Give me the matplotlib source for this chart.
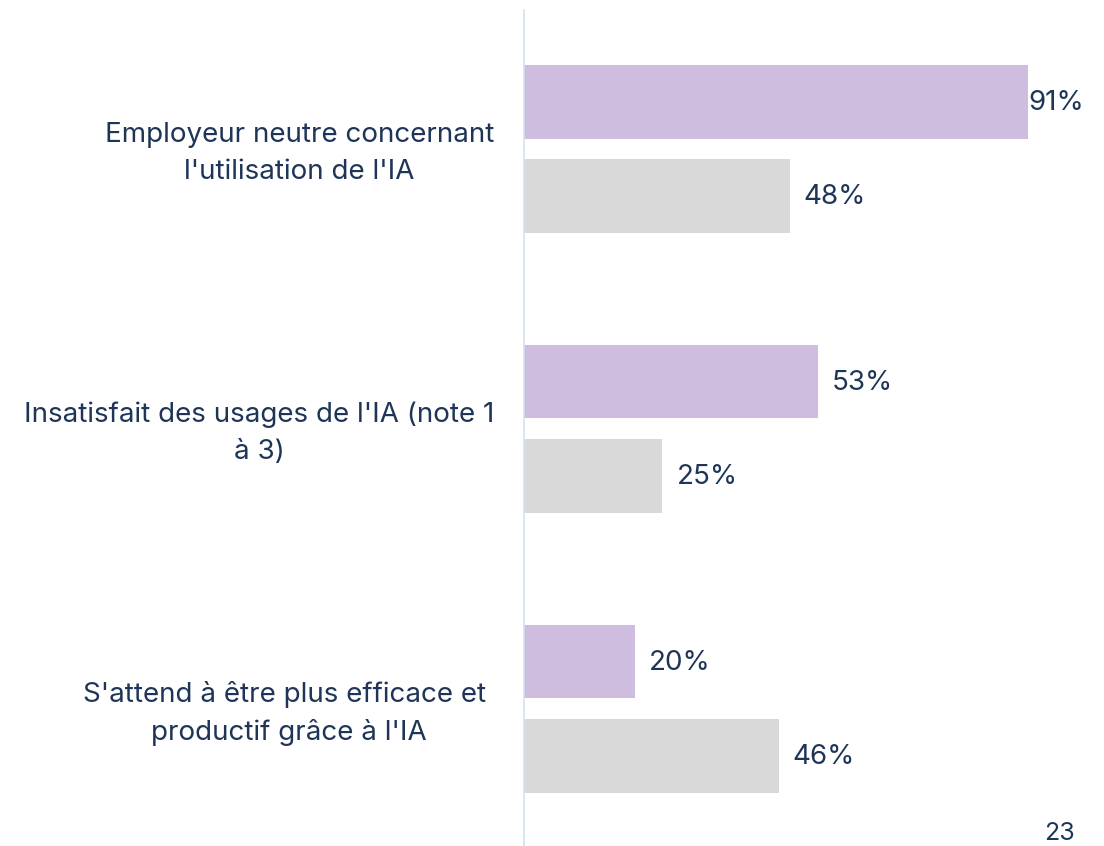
import matplotlib.pyplot as plt
import matplotlib.transforms as mtransforms
import numpy as np

categories = ["Employeur neutre concernant\nl'utilisation de l'IA",
              "Insatisfait des usages de l'IA (note 1\nà 3)",
              "S'attend à être plus efficace et \nproductif grâce à l'IA"]
series_a = [91, 53, 20]
series_b = [48, 25, 46]

purple = '#CFBDE0'
grey = '#D9D9D9'
navy = '#1F3558'

plt.rcParams['font.family'] = ['Inter', 'DejaVu Sans']

fig = plt.figure(figsize=(11.04, 8.46), dpi=100)
ax = fig.add_axes([0.4746, 0.0, 0.5018, 0.988])

y = np.arange(len(categories))
off = 0.169
h = 0.264
ax.barh(y - off, series_a, height=h, color=purple)
ax.barh(y + off, series_b, height=h, color=grey)

for vals, dy in ((series_a, -off), (series_b, off)):
    for yi, v in zip(y, vals):
        pad = 0 if v >= 90 else 14
        ax.annotate(f'{v}%', (v, yi + dy), xytext=(pad, -1), textcoords='offset pixels',
                    va='center', ha='left', fontsize=20, color=navy)

ax.set_xlim(0, 100)
ax.set_ylim(2.49, -0.4955)
ax.set_xticks([])
ax.set_yticks(y)
ax.set_yticklabels(categories, fontsize=20, color=navy, multialignment='center',
                   linespacing=1.55)
ax.tick_params(axis='y', length=0, pad=21.5)
# nudge category labels up a little
shift = mtransforms.ScaledTranslation(0, 4 / 100, fig.dpi_scale_trans)
for lbl in ax.get_yticklabels():
    lbl.set_transform(lbl.get_transform() + shift)
for s in ['top', 'right', 'bottom']:
    ax.spines[s].set_visible(False)
ax.spines['left'].set_color('#D6E0F0')
ax.spines['left'].set_linewidth(1.2)

fig.text(1060 / 1104, 1 - 833 / 846, '23', fontsize=18, color=navy, ha='center', va='center')

fig.savefig('out.png', dpi=100)
